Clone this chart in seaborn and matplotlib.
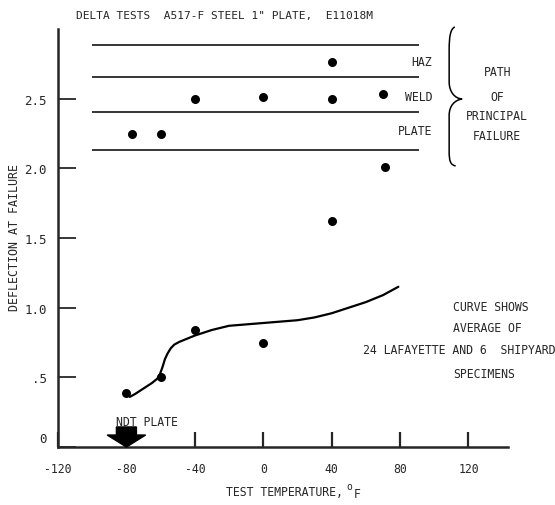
import numpy as np
import pandas as pd
import matplotlib
matplotlib.use("Agg")
import matplotlib.pyplot as plt
import matplotlib.transforms as mtransforms
import seaborn as sns
from matplotlib.path import Path
from matplotlib.patches import PathPatch, FancyArrow

# ---- data ----
pt_temp = [-77, -60, -40, 0, 40, 40, 70, 71, 40, -80, -60, -40, 0]
pt_defl = [2.25, 2.245, 2.50, 2.51, 2.76, 2.50, 2.53, 2.01, 1.62, 0.39, 0.505, 0.84, 0.75]

curve_temp = [-78, -75, -70, -65, -62, -60.5, -59, -57.5, -56, -54, -52, -49, -45, -40, -30, -20, -10, 0, 10, 20, 30, 40, 50, 60, 70, 79]
curve_defl = [0.36, 0.38, 0.42, 0.46, 0.49, 0.52, 0.57, 0.63, 0.67, 0.71, 0.735, 0.755, 0.775, 0.80, 0.84, 0.87, 0.88, 0.89, 0.90, 0.91, 0.93, 0.96, 1.00, 1.04, 1.09, 1.15]

band_levels = [2.885, 2.655, 2.403, 2.13]
band_labels = ["HAZ", "WELD", "PLATE"]
band_label_y = [2.764, 2.513, 2.268]

x_ticks = [-120, -80, -40, 0, 40, 80, 120]
x_ticklabels = ["-120", "-80", "-40", "0", "40", "80", "120"]
y_ticks = [0, 0.5, 1.0, 1.5, 2.0, 2.5]
y_ticklabels = ["0", ".5", "1.0", "1.5", "2.0", "2.5"]

ndt_temp = -80

sns.set_style("ticks")
plt.rcParams['font.family'] = ['DejaVu Sans Mono', 'DejaVu Sans']
plt.rcParams['axes.unicode_minus'] = False

fig = plt.figure(figsize=(5.55, 5.06), dpi=100)
ax = fig.add_axes([0.1045, 0.1146, 0.8105, 0.8261])

pts = pd.DataFrame({"temp": pt_temp, "defl": pt_defl})
crv = pd.DataFrame({"temp": curve_temp, "defl": curve_defl})

sns.lineplot(data=crv, x="temp", y="defl", ax=ax, color="black", linewidth=1.6, sort=False)
sns.scatterplot(data=pts, x="temp", y="defl", ax=ax, color="black", s=42, edgecolor="black", linewidth=0, zorder=5)

for lv in band_levels:
    ax.hlines(lv, -100, 91, color="black", linewidth=1.1)

for lab, yy in zip(band_labels, band_label_y):
    ax.text(98.8, yy, lab, ha="right", va="center", fontsize=8.3)

ax.set_xlim(-120, 143)
ax.set_ylim(0, 3.0)
ax.set_xticks(x_ticks)
ax.set_xticklabels(x_ticklabels, fontsize=8.3)
ax.set_yticks(y_ticks)
ax.set_yticklabels(y_ticklabels, fontsize=9)
ax.tick_params(axis="x", direction="in", length=11, width=1.6, pad=11)
ax.tick_params(axis="y", direction="in", length=13, width=1.3, pad=8)
ax.set_xlabel("")
ax.set_ylabel("")
for s in ["top", "right"]:
    ax.spines[s].set_visible(False)
ax.spines["left"].set_linewidth(1.8)
ax.spines["bottom"].set_linewidth(1.8)

# shift the "0" y tick label up a little, as in the reference
zero_lab = ax.get_yticklabels()[0]
zero_lab.set_transform(zero_lab.get_transform() +
                       mtransforms.ScaledTranslation(0, 7 / 72, fig.dpi_scale_trans))

# brace
verts = [
    (112.0, 3.015),
    (109.5, 3.00), (108.7, 2.95), (108.7, 2.85),
    (108.7, 2.62),
    (108.7, 2.55), (112.0, 2.50), (116.3, 2.498),
    (112.0, 2.49), (108.7, 2.45), (108.7, 2.38),
    (108.7, 2.12),
    (108.7, 2.05), (109.5, 2.025), (112.5, 2.017),
]
codes = [Path.MOVETO,
         Path.CURVE4, Path.CURVE4, Path.CURVE4,
         Path.LINETO,
         Path.CURVE4, Path.CURVE4, Path.CURVE4,
         Path.CURVE4, Path.CURVE4, Path.CURVE4,
         Path.LINETO,
         Path.CURVE4, Path.CURVE4, Path.CURVE4]
ax.add_patch(PathPatch(Path(verts, codes), facecolor="none", edgecolor="black", linewidth=1.1, clip_on=False))

for txt, yy in zip(["PATH", "OF", "PRINCIPAL", "FAILURE"], [2.692, 2.513, 2.376, 2.233]):
    ax.text(136.8, yy, txt, ha="center", va="center", fontsize=8.3, clip_on=False)

for txt, yy in zip(["CURVE SHOWS", "AVERAGE OF"], [1.005, 0.861]):
    ax.text(111, yy, txt, ha="left", va="center", fontsize=8.3, clip_on=False)
ax.text(58.4, 0.703, "24 LAFAYETTE AND 6  SHIPYARD", ha="left", va="center", fontsize=8.3, clip_on=False)
ax.text(111, 0.531, "SPECIMENS", ha="left", va="center", fontsize=8.3, clip_on=False)

# NDT arrow
ax.add_patch(FancyArrow(ndt_temp, 0.144, 0, -0.144, width=11.7, head_width=22.5,
                        head_length=0.086, length_includes_head=True,
                        color="black", clip_on=False, zorder=6))
ax.text(-67.8, 0.185, "NDT PLATE", ha="center", va="center", fontsize=8.3)

fig.text(225 / 555, 1 - 16 / 506, "DELTA TESTS  A517-F STEEL 1\" PLATE,  E11018M",
         ha="center", va="center", fontsize=8.0)
fig.text(15 / 555, 1 - 238 / 506, "DEFLECTION AT FAILURE", rotation=90,
         ha="center", va="center", fontsize=8.4)
fig.text(226 / 555, 1 - 493 / 506, "TEST TEMPERATURE,", ha="left", va="center", fontsize=8.3)
fig.text(346 / 555, 1 - 487 / 506, "o", ha="left", va="center", fontsize=7)
fig.text(354 / 555, 1 - 495 / 506, "F", ha="left", va="center", fontsize=8.3)

fig.savefig("out.png", dpi=100)
